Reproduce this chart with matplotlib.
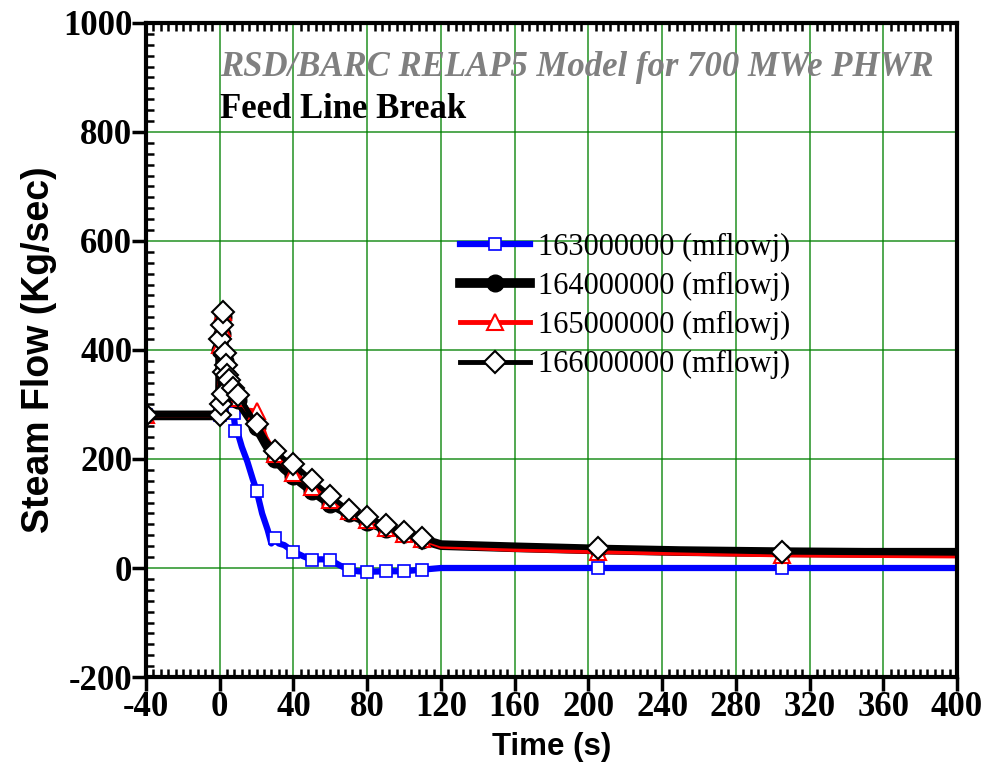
import numpy as np
import matplotlib.pyplot as plt
from matplotlib.ticker import MultipleLocator

plt.rcParams['axes.unicode_minus'] = False

# junction 163000000 (blue, squares)
t_163 = [-40, 0, 1, 2, 3, 4, 5, 6, 7.5, 8.5, 10, 12, 15, 18, 20, 23, 26, 28,
         30, 32, 35, 40, 45, 50, 55, 60, 65, 70, 75, 80, 90, 100, 110, 120,
         160, 205, 250, 305, 350, 400]
v_163 = [280, 280, 272, 455, 310, 300, 292, 280, 284, 252, 245, 222, 195, 162,
         142, 100, 70, 45, 55, 45, 42, 30, 22, 15, 16, 15, 5, -3, -6, -7, -6,
         -6, -3, 0, 0, 0, 0, 0, 0, 0]
mk_163 = [0, 1, 3, 6, 8, 9, 14, 18, 21, 23, 25, 27, 29, 30, 31, 32, 35, 37]

# common time base for 164/165/166
t_main = [-40, 0, 0.4, 0.8, 1.2, 1.6, 2.0, 2.4, 2.8, 3.2, 4, 5, 7, 10, 15, 20,
          25, 30, 35, 40, 50, 60, 70, 80, 90, 100, 110, 120, 140, 160, 205,
          250, 305, 350, 400]
v_164 = [280, 280, 400, 290, 430, 300, 460, 340, 380, 360, 350, 338, 322, 308,
         282, 258, 228, 200, 182, 168, 142, 118, 100, 85, 72, 62, 52, 42, 40,
         38, 34, 31, 29, 28, 28]
v_165 = [280, 280, 410, 295, 440, 310, 470, 350, 385, 365, 352, 340, 326, 312,
         290, 288, 240, 210, 190, 175, 148, 125, 104, 88, 74, 63, 53, 40, 37,
         34, 30, 27, 24, 23, 22]
v_166 = [280, 280, 420, 300, 445, 320, 470, 360, 395, 372, 355, 345, 330, 318,
         290, 264, 235, 215, 200, 191, 161, 132, 106, 94, 79, 66, 55, 44, 42,
         40, 37, 33, 29, 28, 27]
mk_164 = [0, 2, 4, 6, 8, 10, 11, 12, 13, 15, 17, 19, 20, 21, 22, 23, 24, 25, 26, 30, 32]
mk_166 = [0, 1, 2, 3, 4, 5, 6, 7, 8, 9, 10, 11, 12, 13, 15, 17, 19, 20, 21,
          22, 23, 24, 25, 26, 30, 32]

labels = ["163000000 (mflowj)", "164000000 (mflowj)",
          "165000000 (mflowj)", "166000000 (mflowj)"]

serif = ["Liberation Serif", "DejaVu Serif"]
sans = ["Liberation Sans", "DejaVu Sans"]

fig = plt.figure(figsize=(9.82, 7.63), dpi=100)
ax = fig.add_axes([0.1487, 0.1127, 0.8258, 0.8572])

ax.plot(t_163, v_163, '-', color='blue', lw=4.5, marker='s', ms=9,
        mfc='white', mec='blue', mew=1.2, markevery=mk_163, label=labels[0])
ax.plot(t_main, v_164, '-', color='black', lw=7, marker='o', ms=12,
        mfc='black', mec='black', markevery=mk_164, label=labels[1])
ax.plot(t_main, v_165, '-', color='red', lw=3.5, marker='^', ms=12,
        mfc='white', mec='red', mew=1.5, markevery=mk_164, label=labels[2])
ax.plot(t_main, v_166, '-', color='black', lw=3.5, marker='D', ms=11,
        mfc='white', mec='black', mew=1.5, markevery=mk_166, label=labels[3])

ax.set_xlim(-40, 400)
ax.set_ylim(-200, 1000)
ax.xaxis.set_major_locator(MultipleLocator(40))
ax.xaxis.set_minor_locator(MultipleLocator(4))
ax.yaxis.set_major_locator(MultipleLocator(200))
ax.yaxis.set_minor_locator(MultipleLocator(20))
ax.grid(True, which='major', color='green', lw=1.2, alpha=0.8)
ax.set_axisbelow(True)

for s in ax.spines.values():
    s.set_linewidth(3)
ax.tick_params(which='major', direction='out', length=10, width=2.5, pad=0)
ax.tick_params(which='minor', direction='out', length=6, width=1.8)
ax.tick_params(top=True, which='minor', direction='in')
ax.tick_params(axis='x', which='major', top=False)

for lab in ax.get_xticklabels() + ax.get_yticklabels():
    lab.set_family(serif)
    lab.set_fontweight('bold')
    lab.set_fontsize(25)

ax.set_xlabel("Time (s)", family=sans, fontweight='bold', fontsize=22.5, labelpad=6)
ax.set_ylabel("Steam Flow (Kg/sec)", family=sans, fontweight='bold', fontsize=27, labelpad=4)

ax.text(0, 919, "RSD/BARC RELAP5 Model for 700 MWe PHWR", family=serif,
        style='italic', fontweight='bold', fontsize=25, color='gray',
        va='center', ha='left')
ax.text(0, 842, "Feed Line Break", family=serif, fontweight='bold',
        fontsize=25, color='black', va='center', ha='left')

ax.legend(loc='upper left', bbox_to_anchor=(0.372, 0.698), frameon=False,
          prop={'family': serif, 'size': 22}, handlelength=2.3,
          handletextpad=0.25, labelspacing=0.33, borderaxespad=0)

fig.savefig("out.png", dpi=100)
